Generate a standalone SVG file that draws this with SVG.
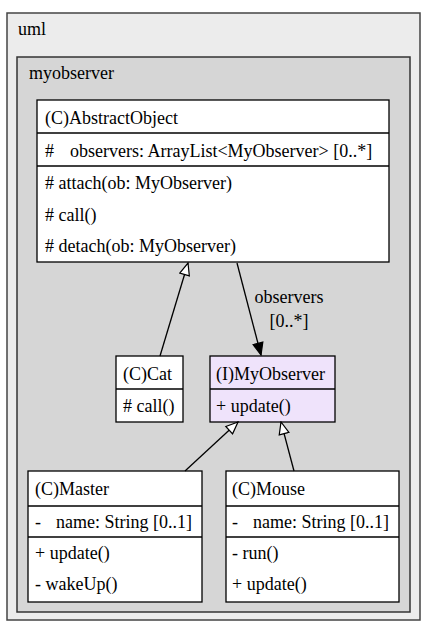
<svg xmlns="http://www.w3.org/2000/svg" width="427" height="627" viewBox="0 0 427 627" font-family="'Liberation Serif', 'Times New Roman', Times, serif" font-size="18">
<defs>
<style>
text{font-family:'Liberation Serif', 'Times New Roman', Times, serif;font-size:18px;fill:#000}
.box{fill:#fff;stroke:#000;stroke-width:1.3}
.div{stroke:#000;stroke-width:1.3}
.edge{stroke:#000;stroke-width:1.3;fill:none}
</style>
<marker id="inh" viewBox="0 0 14 12" refX="13" refY="6" markerWidth="14" markerHeight="12" markerUnits="userSpaceOnUse" orient="auto">
<path d="M1,1 L13,6 L1,11 Z" fill="#fff" stroke="#000" stroke-width="1.2"/>
</marker>
<marker id="assoc" viewBox="0 0 14 12" refX="13" refY="6" markerWidth="14" markerHeight="12" markerUnits="userSpaceOnUse" orient="auto">
<path d="M1,1 L13,6 L1,11 Z" fill="#000" stroke="#000" stroke-width="1.2"/>
</marker>
</defs>
<g id="uml">
<rect x="7" y="13" width="413" height="607" fill="#ececec" stroke="#444" stroke-width="1.5"/>
<text x="18" y="35">uml</text>
</g>
<g id="myobserver">
<rect x="17" y="57" width="393" height="555" fill="#d6d6d6" stroke="#333" stroke-width="1.5"/>
<text x="29" y="79">myobserver</text>
</g>
<g id="AbstractObject">
<rect class="box" x="37" y="100" width="352" height="162"/>
<line class="div" x1="37" y1="133" x2="389" y2="133"/>
<line class="div" x1="37" y1="166" x2="389" y2="166"/>
<text x="45" y="124">(C)AbstractObject</text>
<text x="45" y="157">#</text>
<text x="70" y="157">observers: ArrayList&lt;MyObserver&gt; [0..*]</text>
<text x="45" y="189"># attach(ob: MyObserver)</text>
<text x="45" y="221"># call()</text>
<text x="45" y="252"># detach(ob: MyObserver)</text>
</g>
<g id="Cat">
<rect class="box" x="116" y="356" width="67" height="66"/>
<line class="div" x1="116" y1="389" x2="183" y2="389"/>
<text x="123" y="380">(C)Cat</text>
<text x="123" y="412"># call()</text>
</g>
<g id="MyObserver">
<rect class="box" x="210" y="356" width="125" height="66" style="fill:#efe3fb"/>
<line class="div" x1="210" y1="389" x2="335" y2="389"/>
<text x="216" y="380">(I)MyObserver</text>
<text x="216" y="412">+ update()</text>
</g>
<g id="Master">
<rect class="box" x="28" y="471" width="174" height="131"/>
<line class="div" x1="28" y1="506" x2="202" y2="506"/>
<line class="div" x1="28" y1="537" x2="202" y2="537"/>
<text x="35" y="495">(C)Master</text>
<text x="35" y="528">-</text>
<text x="56" y="528">name: String [0..1]</text>
<text x="35" y="559">+ update()</text>
<text x="35" y="590">- wakeUp()</text>
</g>
<g id="Mouse">
<rect class="box" x="226" y="471" width="173" height="131"/>
<line class="div" x1="226" y1="506" x2="399" y2="506"/>
<line class="div" x1="226" y1="537" x2="399" y2="537"/>
<text x="232" y="495">(C)Mouse</text>
<text x="232" y="528">-</text>
<text x="253" y="528">name: String [0..1]</text>
<text x="232" y="559">- run()</text>
<text x="232" y="590">+ update()</text>
</g>
<g id="connectors">
<line class="edge" x1="160" y1="356" x2="188" y2="263" marker-end="url(#inh)"/>
<line class="edge" x1="237" y1="263" x2="261" y2="355" marker-end="url(#assoc)"/>
<text x="289" y="303" text-anchor="middle">observers</text>
<text x="289" y="327" text-anchor="middle">[0..*]</text>
<line class="edge" x1="185" y1="471" x2="238" y2="422" marker-end="url(#inh)"/>
<line class="edge" x1="294" y1="471" x2="281" y2="422" marker-end="url(#inh)"/>
</g>
</svg>
